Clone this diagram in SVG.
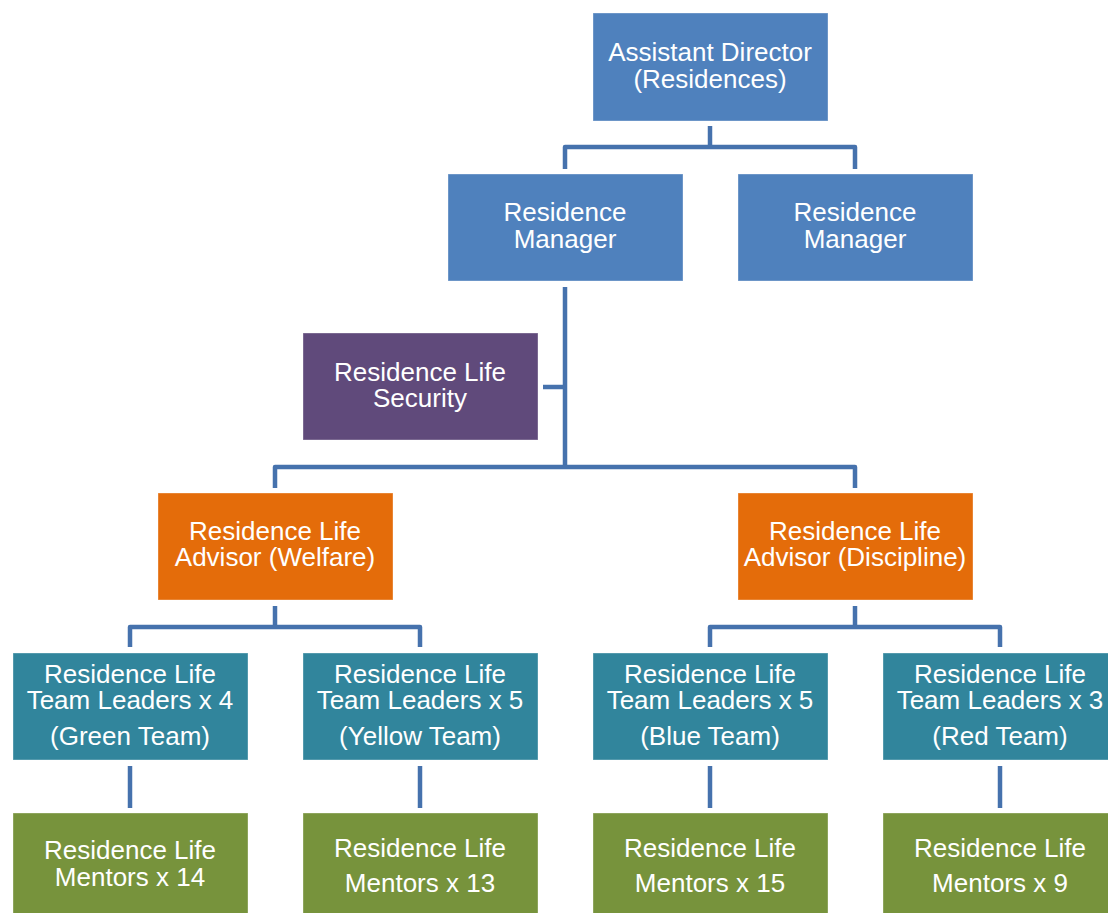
<svg xmlns="http://www.w3.org/2000/svg" width="1108" height="913" viewBox="0 0 1108 913">
<style>
.box{stroke:#ffffff;stroke-opacity:0.35;stroke-width:1}
.blue{fill:#4F81BD}.purple{fill:#604A7B}.orange{fill:#E46C0A}.teal{fill:#31859C}.green{fill:#77933C}
text{font-family:"Liberation Sans",Arial,sans-serif;font-size:26px;fill:#ffffff;text-anchor:middle}
.conn{fill:none;stroke:#4672AD;stroke-width:4.5;stroke-linejoin:round}
</style>
<rect width="1108" height="913" fill="#ffffff"/>
<g id="connectors">
<path class="conn" d="M710 126V147"/>
<path class="conn" d="M565 169V147H855V169"/>
<path class="conn" d="M565 287V467"/>
<path class="conn" d="M543 387H565"/>
<path class="conn" d="M275 488V467H855V488"/>
<path class="conn" d="M275 606V627"/>
<path class="conn" d="M130 647V627H420V647"/>
<path class="conn" d="M855 606V627"/>
<path class="conn" d="M710 647V627H1000V647"/>
<path class="conn" d="M130 766V808"/>
<path class="conn" d="M420 766V808"/>
<path class="conn" d="M710 766V808"/>
<path class="conn" d="M1000 766V808"/>
</g>
<g id="assistant-director"><rect class="box blue" x="593" y="13" width="235" height="108"/><text x="710" y="61">Assistant Director</text><text x="710" y="88">(Residences)</text></g>
<g id="residence-manager-1"><rect class="box blue" x="448" y="174" width="235" height="107"/><text x="565" y="221">Residence</text><text x="565" y="248">Manager</text></g>
<g id="residence-manager-2"><rect class="box blue" x="738" y="174" width="235" height="107"/><text x="855" y="221">Residence</text><text x="855" y="248">Manager</text></g>
<g id="security"><rect class="box purple" x="303" y="333" width="235" height="107"/><text x="420" y="381">Residence Life</text><text x="420" y="407">Security</text></g>
<g id="advisor-welfare"><rect class="box orange" x="158" y="493" width="235" height="107"/><text x="275" y="540">Residence Life</text><text x="275" y="566">Advisor (Welfare)</text></g>
<g id="advisor-discipline"><rect class="box orange" x="738" y="493" width="235" height="107"/><text x="855" y="540">Residence Life</text><text x="855" y="566">Advisor (Discipline)</text></g>
<g id="team-green"><rect class="box teal" x="13" y="653" width="235" height="107"/><text x="130" y="683">Residence Life</text><text x="130" y="709">Team Leaders x 4</text><text x="130" y="745">(Green Team)</text></g>
<g id="team-yellow"><rect class="box teal" x="303" y="653" width="235" height="107"/><text x="420" y="683">Residence Life</text><text x="420" y="709">Team Leaders x 5</text><text x="420" y="745">(Yellow Team)</text></g>
<g id="team-blue"><rect class="box teal" x="593" y="653" width="235" height="107"/><text x="710" y="683">Residence Life</text><text x="710" y="709">Team Leaders x 5</text><text x="710" y="745">(Blue Team)</text></g>
<g id="team-red"><rect class="box teal" x="883" y="653" width="235" height="107"/><text x="1000" y="683">Residence Life</text><text x="1000" y="709">Team Leaders x 3</text><text x="1000" y="745">(Red Team)</text></g>
<g id="mentors-14"><rect class="box green" x="13" y="813" width="235" height="107"/><text x="130" y="859">Residence Life</text><text x="130" y="886">Mentors x 14</text></g>
<g id="mentors-13"><rect class="box green" x="303" y="813" width="235" height="107"/><text x="420" y="857">Residence Life</text><text x="420" y="892">Mentors x 13</text></g>
<g id="mentors-15"><rect class="box green" x="593" y="813" width="235" height="107"/><text x="710" y="857">Residence Life</text><text x="710" y="892">Mentors x 15</text></g>
<g id="mentors-9"><rect class="box green" x="883" y="813" width="235" height="107"/><text x="1000" y="857">Residence Life</text><text x="1000" y="892">Mentors x 9</text></g>
</svg>
